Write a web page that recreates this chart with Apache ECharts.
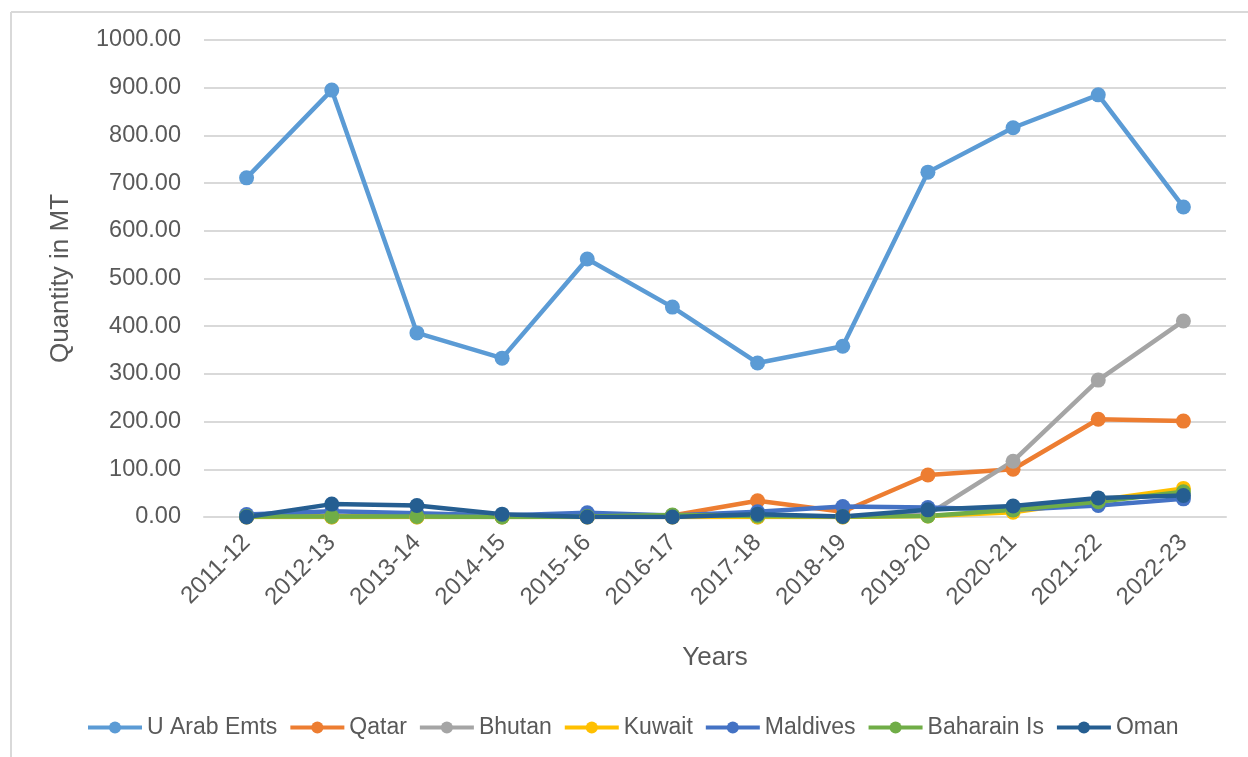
<!DOCTYPE html>
<html><head><meta charset="utf-8">
<script src="https://cdn.jsdelivr.net/npm/echarts@6/dist/echarts.min.js"></script>
<style>html,body{margin:0;padding:0;background:#fff}#c{width:1248px;height:757px}</style>
</head><body><div id="c"></div>
<script>
const categories = ['2011-12','2012-13','2013-14','2014-15','2015-16','2016-17','2017-18','2018-19','2019-20','2020-21','2021-22','2022-23'];
const uae      = [711, 895, 386, 333, 541, 440, 323, 358, 723, 816, 885, 650];
const qatar    = [2, 2, 2, 1, 2, 3, 34, 11, 88, 100, 205, 201];
const bhutan   = [0, 0, 0, 0, 0, 0, 0, 0, 5, 117, 287, 411];
const kuwait   = [0, 0, 0, 0, 0, 0, 0, 0, 2, 10, 35, 60];
const maldives = [5, 12, 8, 3, 9, 3, 11, 22, 20, 15, 24, 38];
const baharain = [1, 1, 1, 0, 1, 4, 2, 1, 2, 15, 32, 53];
const oman     = [0, 27, 24, 6, 0, 0, 6, 1, 15, 23, 40, 45];
const yTicks = {min: 0, max: 1000, interval: 100};

const names = ['U Arab Emts','Qatar','Bhutan','Kuwait','Maldives','Baharain Is','Oman'];
const values = [uae, qatar, bhutan, kuwait, maldives, baharain, oman];
const colors = ['#5B9BD5','#ED7D31','#A5A5A5','#FFC000','#4472C4','#70AD47','#255E91'];

const font = 'Liberation Sans, Arial, sans-serif';
const chart = echarts.init(document.getElementById('c'), null, {renderer: 'canvas'});
chart.setOption({
  animation: false,
  backgroundColor: '#fff',
  color: colors,
  textStyle: {fontFamily: font},
  graphic: [
    {type: 'line', shape: {x1: 11, y1: 12, x2: 1248, y2: 12}, style: {stroke: '#D9D9D9', lineWidth: 2}},
    {type: 'line', shape: {x1: 11, y1: 12, x2: 11, y2: 757}, style: {stroke: '#D9D9D9', lineWidth: 2}}
  ],
  grid: {left: 204, right: 22, top: 40, bottom: 240, containLabel: false},
  xAxis: {
    type: 'category', data: categories, boundaryGap: true,
    axisLine: {lineStyle: {color: '#D9D9D9', width: 2}},
    axisTick: {show: false},
    axisLabel: {rotate: 45, color: '#595959', fontSize: 24, fontFamily: font, interval: 0, margin: 22},
    name: 'Years', nameLocation: 'middle', nameGap: 128,
    nameTextStyle: {color: '#595959', fontSize: 26, fontFamily: font}
  },
  yAxis: {
    type: 'value', min: yTicks.min, max: yTicks.max, interval: yTicks.interval,
    axisLine: {show: false}, axisTick: {show: false},
    splitLine: {lineStyle: {color: '#D9D9D9', width: 2}},
    axisLabel: {color: '#595959', fontSize: 23.5, fontFamily: font, margin: 23,
      formatter: v => v.toFixed(2)},
    name: 'Quantity in MT', nameLocation: 'middle', nameGap: 130, nameRotate: 90,
    nameTextStyle: {color: '#595959', fontSize: 26, fontFamily: font}
  },
  legend: {
    bottom: 13, left: 81, itemWidth: 54, itemHeight: 15, itemGap: 11,
    lineStyle: {width: 4},
    textStyle: {color: '#595959', fontSize: 23, fontFamily: font},
    data: names
  },
  series: names.map((n, i) => ({
    name: n, type: 'line', data: values[i],
    symbol: 'circle', symbolSize: 15,
    lineStyle: {width: 4.5, color: colors[i]},
    itemStyle: {color: colors[i]}
  }))
});
</script></body></html>
